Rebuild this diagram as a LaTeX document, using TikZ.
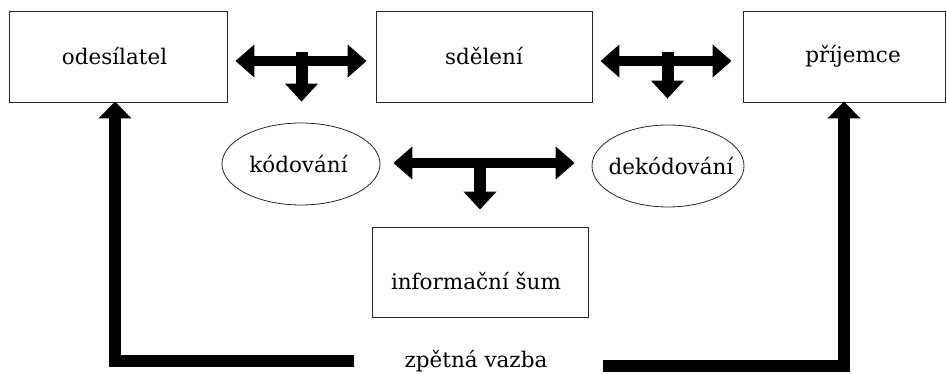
\documentclass[tikz,border=0pt]{standalone}
\usepackage{fontspec}
\setmainfont{DejaVu Serif}
\usetikzlibrary{arrows.meta,shapes.geometric,calc}

\begin{document}
\begin{tikzpicture}[x=1pt,y=-1pt,
  txt/.style={font=\fontsize{21.5}{25}\selectfont, inner sep=0pt},
  box/.style={draw=black!85, line width=0.9pt, minimum height=91pt, inner sep=0pt},
  oval/.style={draw=black!85, ellipse, line width=0.8pt, inner sep=0pt, minimum height=82pt},
  head/.style={Triangle[width=32pt,length=19pt]},
  flow/.style={line width=12pt, -{Triangle[width=32pt,length=18pt]}},
  twoway/.style={line width=10.5pt, {Triangle[width=32pt,length=19pt]}-{Triangle[width=32pt,length=19pt]}},
  back/.style={line width=12.5pt, line join=miter, -{Triangle[width=32pt,length=17pt]}}
]
\useasboundingbox (0,0) rectangle (947,374);

% the three main boxes
\node[box, minimum width=218pt] (odes) at (118,56.5) {};
\node[txt] (odestext) at (114.5,56.5) {odesílatel};
\node[box, minimum width=216pt] (sdel) at (484,56.5) {};
\node[txt] (sdeltext) at (484,56.5) {sdělení};
\node[box, minimum width=202pt] (prij) at (844,56.5) {};
\node[txt] (prijtext) at (853,56.5) {příjemce};

% coding and decoding
\node[oval, minimum width=158pt] (kod) at (301,164) {};
\node[txt] (kodtext) at (298.5,164) {kódování};
\node[oval, minimum width=152pt] (dek) at (668,166) {};
\node[txt] (dektext) at (671,166) {dekódování};

% noise
\node[box, minimum width=216pt, minimum height=90pt] (info) at (480,272) {};
\node[txt] (infotext) at (476,281) {informační šum};

% feedback
\node[txt] (zv) at (476,361) {zpětná vazba};
\coordinate (fbL) at (354,361);
\coordinate (fbR) at (603,366);

% sender -- message -- receiver
\coordinate (m1) at ($(odes.east)!0.5!(sdel.west)+(0,-4.5)$);
\draw[twoway, shorten <=8pt, shorten >=9pt] ([yshift=-4.5pt]odes.east) -- ([yshift=-4.5pt]sdel.west);
\draw[flow, shorten >=21pt] (m1) -- (m1 |- kod.north);

\coordinate (m2) at ($(sdel.east)!0.5!(prij.west)+(0,-4.5)$);
\draw[twoway, shorten <=8pt, shorten >=11pt] ([yshift=-4.5pt]sdel.east) -- ([yshift=-4.5pt]prij.west);
\draw[flow, shorten >=26pt] (m2) -- (m2 |- dek.north);

% coding -- decoding, down to noise
\coordinate (k3) at ([yshift=1pt]kod.east);
\coordinate (m3) at ($(k3)!0.5!(k3 -| dek.west)+(-6,0)$);
\draw[twoway, shorten <=13pt, shorten >=17pt] (k3) -- (k3 -| dek.west);
\draw[flow, shorten >=17pt] (m3) -- (m3 |- info.north);

% feedback loops
\draw[back, shorten >=-1pt] (fbL) -| ([xshift=-3pt]odes.south);
\draw[back, shorten >=-1pt] (fbR) -| (prij.south);
\end{tikzpicture}
\end{document}
